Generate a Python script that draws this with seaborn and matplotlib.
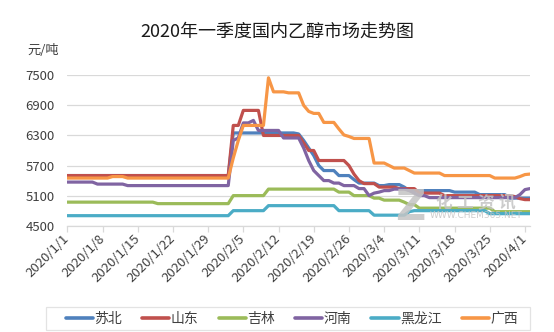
import matplotlib
matplotlib.use("Agg")
import matplotlib.pyplot as plt
import matplotlib.dates as mdates
import matplotlib.ticker as mticker
from matplotlib.patches import Rectangle
import pandas as pd
import seaborn as sns

# Daily prices, 2020-01-01 .. 2020-04-02 (yuan/ton); rows: Jan, Feb, Mar, Apr
dates = pd.date_range("2020-01-01", "2020-04-02", freq="D")

su_bei = [
    5500, 5500, 5500, 5500, 5500, 5500, 5500, 5500, 5500, 5500, 5500, 5500, 5500, 5500, 5500, 5500,
    5500, 5500, 5500, 5500, 5500, 5500, 5500, 5500, 5500, 5500, 5500, 5500, 5500, 5500, 5500,
    5500, 5500, 6350, 6350, 6350, 6350, 6350, 6350, 6350, 6350, 6350, 6350, 6350, 6350, 6350,
    6330, 6200, 6050, 5900, 5700, 5600, 5600, 5600, 5500, 5500, 5500, 5420, 5350, 5350,
    5350, 5350, 5300, 5300, 5320, 5320, 5320, 5270, 5200, 5200, 5200, 5200, 5200, 5200, 5200, 5200,
    5200, 5170, 5170, 5170, 5170, 5170, 5120, 5120, 5120, 5120, 5120, 5120, 5050, 5050, 5050,
    5050, 5050,
]
shan_dong = [
    5500, 5500, 5500, 5500, 5500, 5500, 5500, 5500, 5500, 5500, 5500, 5500, 5500, 5500, 5500, 5500,
    5500, 5500, 5500, 5500, 5500, 5500, 5500, 5500, 5500, 5500, 5500, 5500, 5500, 5500, 5500,
    5500, 5500, 6500, 6500, 6800, 6800, 6800, 6800, 6300, 6300, 6300, 6300, 6300, 6300, 6300,
    6300, 6150, 6000, 6000, 5800, 5800, 5800, 5800, 5800, 5800, 5700, 5530, 5400, 5340,
    5340, 5340, 5270, 5270, 5270, 5270, 5240, 5240, 5240, 5240, 5150, 5150, 5150, 5150, 5150, 5100,
    5100, 5100, 5100, 5100, 5100, 5100, 5100, 5100, 5100, 5100, 5100, 5100, 5100, 5080, 5040,
    5020, 5020,
]
ji_lin = [
    4970, 4970, 4970, 4970, 4970, 4970, 4970, 4970, 4970, 4970, 4970, 4970, 4970, 4970, 4970, 4970,
    4970, 4970, 4940, 4940, 4940, 4940, 4940, 4940, 4940, 4940, 4940, 4940, 4940, 4940, 4940,
    4940, 4940, 5100, 5100, 5100, 5100, 5100, 5100, 5100, 5230, 5230, 5230, 5230, 5230, 5230,
    5230, 5230, 5230, 5230, 5230, 5230, 5230, 5230, 5170, 5170, 5170, 5100, 5100, 5100,
    5100, 5050, 5050, 5010, 5010, 5010, 5010, 4970, 4920, 4920, 4850, 4850, 4850, 4850, 4850, 4850,
    4850, 4850, 4850, 4850, 4850, 4850, 4850, 4850, 4850, 4780, 4780, 4780, 4780, 4780, 4780,
    4780, 4780,
]
he_nan = [
    5370, 5370, 5370, 5370, 5370, 5370, 5330, 5330, 5330, 5330, 5330, 5330, 5300, 5300, 5300, 5300,
    5300, 5300, 5300, 5300, 5300, 5300, 5300, 5300, 5300, 5300, 5300, 5300, 5300, 5300, 5300,
    5300, 5300, 6200, 6250, 6550, 6550, 6600, 6400, 6400, 6400, 6400, 6400, 6250, 6250, 6250,
    6250, 6050, 5800, 5600, 5500, 5400, 5400, 5350, 5350, 5300, 5300, 5300, 5240, 5240,
    5100, 5150, 5170, 5200, 5200, 5230, 5230, 5230, 5200, 5150, 5100, 5100, 5060, 5060, 5060, 5060,
    5060, 5060, 5060, 5060, 5060, 5060, 5060, 5060, 5060, 5060, 5060, 5060, 5060, 5060, 5120,
    5220, 5240,
]
hei_long_jiang = [
    4700, 4700, 4700, 4700, 4700, 4700, 4700, 4700, 4700, 4700, 4700, 4700, 4700, 4700, 4700, 4700,
    4700, 4700, 4700, 4700, 4700, 4700, 4700, 4700, 4700, 4700, 4700, 4700, 4700, 4700, 4700,
    4700, 4700, 4800, 4800, 4800, 4800, 4800, 4800, 4800, 4900, 4900, 4900, 4900, 4900, 4900,
    4900, 4900, 4900, 4900, 4900, 4900, 4900, 4900, 4800, 4800, 4800, 4800, 4800, 4800,
    4800, 4710, 4710, 4710, 4710, 4710, 4710, 4710, 4780, 4800, 4800, 4800, 4800, 4800, 4800, 4800,
    4800, 4800, 4800, 4800, 4800, 4800, 4800, 4800, 4740, 4740, 4740, 4740, 4740, 4740, 4740,
    4740, 4740,
]
guang_xi = [
    5450, 5450, 5450, 5450, 5450, 5450, 5450, 5450, 5450, 5480, 5480, 5480, 5450, 5450, 5450, 5450,
    5450, 5450, 5450, 5450, 5450, 5450, 5450, 5450, 5450, 5450, 5450, 5450, 5450, 5450, 5450,
    5450, 5450, 5850, 6200, 6500, 6500, 6500, 6500, 6500, 7450, 7170, 7170, 7170, 7150, 7150,
    7150, 6900, 6780, 6740, 6740, 6560, 6560, 6560, 6430, 6310, 6280, 6240, 6240, 6240,
    6240, 5750, 5750, 5750, 5700, 5650, 5650, 5650, 5600, 5550, 5550, 5550, 5550, 5550, 5550, 5500,
    5500, 5500, 5500, 5500, 5500, 5500, 5500, 5500, 5500, 5450, 5450, 5450, 5450, 5450, 5480,
    5520, 5530,
]

regions = ["苏北", "山东", "吉林", "河南", "黑龙江", "广西"]
series = [su_bei, shan_dong, ji_lin, he_nan, hei_long_jiang, guang_xi]
colors = ["#4F81BD", "#C0504D", "#9BBB59", "#8064A2", "#4BACC6", "#F79646"]

y_ticks = [4500, 5100, 5700, 6300, 6900, 7500]
title = "2020年一季度国内乙醇市场走势图"
unit = "元/吨"

df = pd.concat(
    [pd.DataFrame({"日期": dates, "价格": vals, "地区": name}) for name, vals in zip(regions, series)],
    ignore_index=True,
)

sns.set_theme(style="white")
plt.rcParams["font.family"] = ["Noto Sans CJK SC", "DejaVu Sans"]

W, H = 554, 332
fig = plt.figure(figsize=(W / 100, H / 100), dpi=100)
ax = fig.add_axes([67.3 / W, 1 - 225.7 / H, (530 - 67.3) / W, (225.7 - 75.3) / H])

sns.lineplot(
    data=df, x="日期", y="价格", hue="地区", hue_order=regions,
    palette=dict(zip(regions, colors)), linewidth=2.3, ax=ax, legend=True,
)

ax.set_xlim(dates[0], dates[-1])
ax.set_ylim(y_ticks[0], y_ticks[-1])
ax.set_yticks(y_ticks)
ax.set_xlabel("")
ax.set_ylabel("")

tick_dates = pd.date_range("2020-01-01", "2020-04-01", freq="7D")
ax.set_xticks(tick_dates)
ax.xaxis.set_major_formatter(
    mticker.FuncFormatter(lambda v, p: (lambda d: f"{d.year}/{d.month}/{d.day}")(mdates.num2date(v)))
)

ax.grid(axis="y", color="#d9d9d9", linewidth=0.9)
ax.grid(axis="x", visible=False)
for s in ["top", "right", "left"]:
    ax.spines[s].set_visible(False)
ax.spines["bottom"].set_color("#d9d9d9")
ax.spines["bottom"].set_linewidth(0.9)
ax.spines["bottom"].set_zorder(0)

ax.tick_params(axis="y", length=0, pad=9, labelsize=9.5, labelcolor="#404040")
ax.tick_params(axis="x", length=4, width=0.9, color="#d9d9d9", direction="out",
               pad=4, labelsize=9.5, labelcolor="#404040", bottom=True)
for lbl in ax.get_xticklabels():
    lbl.set_rotation(45)
    lbl.set_ha("right")
    lbl.set_va("center")
    lbl.set_rotation_mode("anchor")

# Legend row under the axes, inside a light frame
handles, labels = ax.get_legend_handles_labels()
ax.get_legend().remove()
leg = fig.legend(
    handles, labels, loc="center", bbox_to_anchor=(292 / W, 1 - 318.5 / H),
    ncol=6, frameon=False, fontsize=10,
    handlelength=1.95, handletextpad=0.1, columnspacing=1.45,
)
for h in leg.get_lines():
    h.set_linewidth(2.6)
for t in leg.get_texts():
    t.set_color("#404040")
fig.patches.append(Rectangle((46 / W, 1 - 330 / H), (530 - 46) / W, 23 / H,
                             transform=fig.transFigure, fill=False,
                             edgecolor="#e3e3e3", linewidth=0.9))

fig.text(0.5, 1 - 32 / H, title, ha="center", va="center", fontsize=13, color="#1a1a1a")
fig.text(43 / W, 1 - 50 / H, unit, ha="center", va="center", fontsize=9.5, color="#404040")

# Publisher mark
wm = dict(color="#c4c4c4", alpha=0.85, zorder=10, transform=fig.transFigure)
fig.text(410 / W, 1 - 208 / H, "Z", ha="center", va="center", fontsize=30,
         fontweight="bold", family="DejaVu Sans", **wm)
for i, ch in enumerate("化工资讯"):
    fig.text((444 + 21 * i) / W, 1 - 203 / H, ch, ha="center", va="center",
             fontsize=12, fontweight="bold", **wm)
fig.text(476 / W, 1 - 216 / H, "WWW.CHEM365.NET", ha="center", va="center", fontsize=6.5,
         family="DejaVu Sans", **wm)

fig.savefig("out.png", dpi=100, facecolor="white")
